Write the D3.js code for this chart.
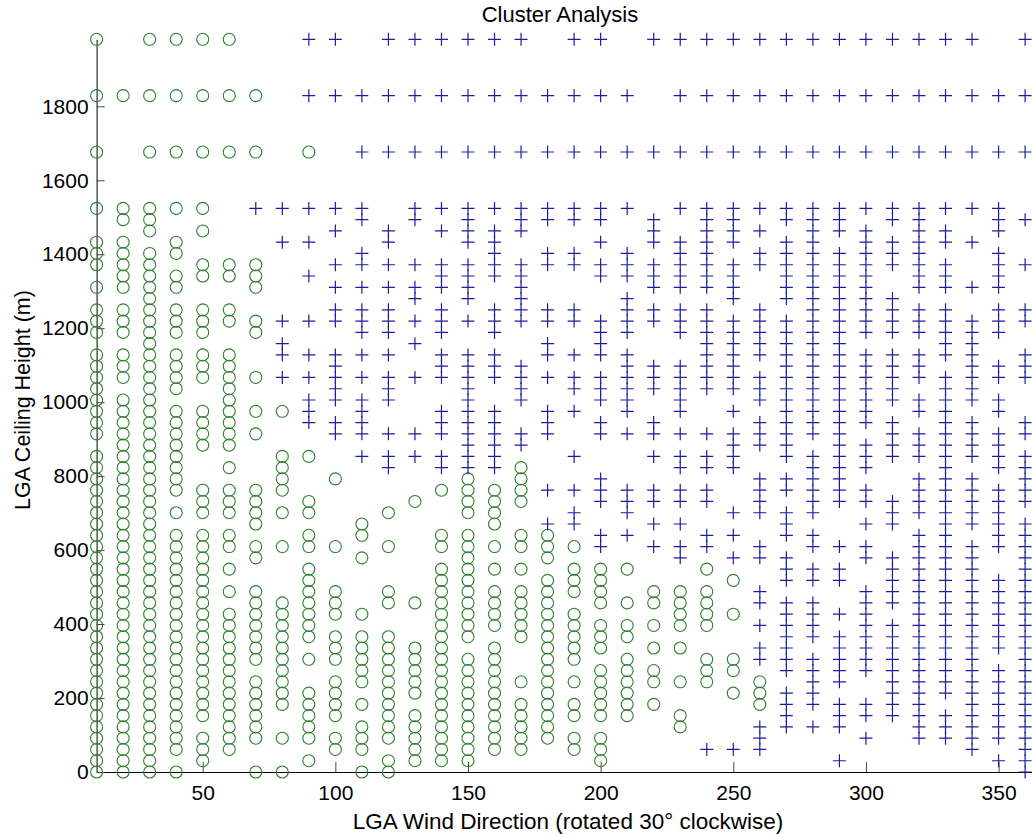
<!DOCTYPE html>
<html>
<head>
<meta charset="utf-8">
<script src="https://cdn.jsdelivr.net/npm/d3@7"></script>
<style>
  body { margin: 0; background: #fff; }
  svg { display: block; font-family: Arial, "Liberation Sans", sans-serif; }
</style>
</head>
<body>
<div id="chart"></div>
<script>
// wind direction bins (deg, rotated 30 deg clockwise)
const directions = [10, 20, 30, 40, 50, 60, 70, 80, 90, 100, 110, 120, 130, 140, 150, 160, 170, 180,
  190, 200, 210, 220, 230, 240, 250, 260, 270, 280, 290, 300, 310, 320, 330, 340, 350, 360];

// ceiling levels in hundreds of feet, cluster 1 (circles), one list per direction
const clusterOneLevels = [
  [0,1,2,3,4,5,6,7,8,9,10,11,12,13,14,15,16,17,18,19,20,21,22,23,24,25,26,27,28,30,31,32,33,34,35,36,37,39,40,41,43,45,46,47,50,55,60,65],
  [0,1,2,3,4,5,6,7,8,9,10,11,12,13,14,15,16,17,18,19,20,21,22,23,24,25,26,27,28,29,30,31,32,33,35,36,37,39,40,41,43,44,45,46,47,49,50,60],
  [0,1,2,3,4,5,6,7,8,9,10,11,12,13,14,15,16,17,18,19,20,21,22,23,24,25,26,27,28,29,30,31,32,33,34,35,36,37,38,39,40,41,42,43,44,45,46,48,49,50,55,60,65],
  [0,2,3,4,5,6,7,8,9,10,11,12,13,14,15,16,17,18,19,20,21,23,25,26,27,28,29,30,31,32,34,35,36,37,39,40,41,43,44,46,47,50,55,60,65],
  [1,2,3,5,6,7,8,9,10,11,12,13,14,15,16,17,18,19,20,21,23,24,25,29,30,31,32,35,36,37,39,40,41,44,45,48,50,55,60,65],
  [2,3,4,5,6,7,8,9,10,11,12,13,14,16,18,20,21,23,24,25,27,29,30,31,32,33,34,35,36,37,40,41,44,45,55,60,65],
  [0,3,4,5,6,7,8,10,11,12,13,14,15,16,19,20,22,23,24,25,30,32,35,39,40,43,44,45,55,60],
  [0,3,6,7,8,9,10,11,12,13,14,15,20,23,25,26,27,28,32],
  [1,3,4,5,6,7,10,12,13,14,15,16,17,18,20,21,23,24,28,55],
  [2,3,5,6,7,8,10,11,12,14,15,16,20,26],
  [0,2,3,4,6,8,9,10,11,12,14,19,21,22],
  [0,1,3,4,5,6,7,8,9,10,11,12,15,16,20,23],
  [1,2,3,4,5,7,8,9,10,11,15,24],
  [1,2,3,4,5,6,7,8,9,10,11,12,13,14,15,16,17,18,20,21,25],
  [1,2,3,4,5,6,7,8,9,10,12,13,14,15,16,17,18,19,20,21,23,24,25,26],
  [2,3,4,5,6,7,8,9,10,11,13,14,15,16,18,20,22,23,24,25],
  [2,3,4,5,6,8,12,13,14,15,16,18,20,21,24,25,26,27],
  [3,4,5,6,7,8,9,10,11,12,13,14,15,16,17,19,20,21],
  [2,3,5,6,8,10,11,12,13,14,16,17,18,20],
  [1,2,3,5,6,7,8,9,11,12,13,15,16,17,18],
  [5,6,7,8,9,10,12,13,15,18],
  [6,8,9,11,13,15,16],
  [4,5,8,11,13,14,15,16],
  [8,9,10,13,14,15,16,18],
  [7,9,10,14,17],
  [6,7,8],
  [], [], [], [], [], [], [], [], [], []
];

// ceiling levels in hundreds of feet, cluster 2 (crosses)
const clusterTwoLevels = [
  [], [], [], [], [], [],
  [50],
  [35,37,38,40,47,50],
  [31,32,33,35,37,40,44,47,50,60,65],
  [30,31,33,34,35,36,37,40,41,43,45,48,50,60,65],
  [28,30,31,32,33,35,37,39,40,41,43,45,46,49,50,55,60],
  [27,28,30,33,34,35,37,39,40,41,43,45,47,48,55,60,65],
  [28,30,35,38,40,42,43,45,49,50,55,60,65],
  [27,28,30,31,32,35,36,37,39,40,41,43,44,45,48,50,55,60,65],
  [27,28,29,30,31,32,33,34,35,36,37,40,42,43,44,45,47,48,49,50,55,60,65],
  [27,28,29,30,31,32,35,36,37,39,40,41,44,45,46,47,48,50,55,60,65],
  [29,30,33,34,35,36,40,41,42,43,44,45,48,49,50,55,60,65],
  [22,25,30,31,32,35,37,38,40,41,45,46,49,50,55,60],
  [22,23,25,28,32,34,35,37,40,41,45,46,49,50,55,60,65],
  [20,21,24,25,26,30,31,33,34,35,37,38,39,40,44,45,47,49,50,55,60,65],
  [21,23,24,25,30,32,33,34,35,36,37,39,40,41,42,44,45,46,50,55,60],
  [20,22,24,25,28,30,31,34,35,36,40,41,43,44,45,47,48,49,55,65],
  [19,20,22,24,25,27,28,30,32,33,34,35,36,39,40,41,43,44,45,46,47,50,55,60,65],
  [2,20,21,24,25,27,28,30,34,35,36,37,38,39,40,41,43,44,45,46,47,48,49,50,55,60,65],
  [2,19,21,23,27,28,29,30,32,34,35,36,37,38,39,40,42,43,44,45,47,48,49,50,55,60,65],
  [2,3,4,10,11,13,15,16,19,20,23,24,25,26,29,30,31,33,34,35,37,38,39,40,41,45,46,48,50,55,60,65],
  [4,5,6,7,9,10,11,12,13,14,15,17,18,19,21,22,23,25,26,28,29,30,31,32,33,34,35,36,37,38,39,40,42,43,44,45,46,47,49,50,55,60,65],
  [4,6,7,8,9,10,12,13,14,15,17,18,20,21,23,24,25,26,27,28,30,31,32,33,34,35,36,37,38,39,40,41,42,43,44,45,46,47,48,49,50,55,60,65],
  [1,4,5,6,8,9,10,11,12,14,17,18,20,24,25,26,27,28,29,30,31,32,33,34,35,36,37,38,39,40,41,42,43,44,45,46,48,49,50,55,60,65],
  [3,5,6,9,10,11,12,13,14,15,16,19,20,22,24,25,27,28,29,31,32,33,34,35,36,37,39,40,41,42,43,44,45,46,47,48,50,55,60,65],
  [5,6,7,8,9,10,11,12,13,15,16,17,18,19,22,23,24,28,29,30,31,33,34,35,36,37,39,40,41,42,45,46,47,49,50,55,60,65],
  [3,4,5,6,7,8,9,10,11,12,13,14,15,16,17,18,19,20,21,23,24,25,26,28,29,30,32,33,35,36,37,39,40,41,43,44,45,46,47,48,49,50,55,60,65],
  [3,4,5,7,8,9,10,11,12,13,14,15,16,17,18,19,20,21,22,23,24,25,26,27,28,29,30,31,32,33,34,35,37,38,39,40,41,43,44,45,47,48,50,55,60,65],
  [2,3,4,5,6,7,8,9,10,11,12,13,14,15,16,17,18,19,20,22,23,24,25,26,28,29,30,31,33,34,35,36,37,38,39,40,43,47,50,55,60,65],
  [1,3,4,5,6,7,8,9,11,12,13,14,15,16,17,20,21,22,23,24,25,27,28,29,30,32,33,35,36,39,40,41,43,44,45,46,48,49,50,55,60],
  [0,1,2,3,4,5,6,7,8,9,10,11,12,13,14,15,16,17,18,19,20,21,22,24,25,26,27,28,30,31,35,36,37,40,41,45,49,55,60,65]
];

const xTicks = [50, 100, 150, 200, 250, 300, 350];
const yTicks = [0, 200, 400, 600, 800, 1000, 1200, 1400, 1600, 1800];

const FT100 = 30.48; // 100 ft in metres

const W = 1032, H = 834;
const plotLeft = 96.6, plotRight = 1032, plotTop = 39.3, plotBottom = 772;

const svg = d3.select('#chart')
  .append('svg')
  .attr('width', W)
  .attr('height', H);

svg.append('rect').attr('width', W).attr('height', H).attr('fill', '#fff');

const x = d3.scaleLinear().domain([10, 362.6]).range([plotLeft, plotRight]);
const y = d3.scaleLinear().domain([0, 65 * FT100]).range([plotBottom, plotTop]);

function points(levels) {
  let out = [];
  levels.forEach((list, i) => {
    list.forEach(k => out.push({ dir: directions[i], h: k * FT100 }));
  });
  return out;
}

// axes (ticks point inward, no box)
const xAxis = svg.append('g')
  .attr('transform', `translate(0,${plotBottom})`)
  .call(d3.axisBottom(x).tickValues(xTicks).tickFormat(d3.format('d'))
    .tickSizeInner(-10).tickSizeOuter(0).tickPadding(13));

const yAxis = svg.append('g')
  .attr('transform', `translate(${plotLeft},0)`)
  .call(d3.axisLeft(y).tickValues(yTicks).tickFormat(d3.format('d'))
    .tickSizeInner(-8).tickSizeOuter(0).tickPadding(8));

[xAxis, yAxis].forEach(a => {
  a.select('.domain').attr('stroke', '#000').attr('stroke-width', 1);
  a.selectAll('.tick line').attr('stroke', '#444');
  a.selectAll('.tick text')
    .attr('fill', '#000')
    .attr('font-size', 21)
    .attr('font-family', 'Arial, "Liberation Sans", sans-serif');
});

// cluster 1: green circles
svg.append('g')
  .attr('fill', 'none')
  .attr('stroke', '#2f7f2f')
  .attr('stroke-width', 1.1)
  .selectAll('circle')
  .data(points(clusterOneLevels))
  .join('circle')
  .attr('cx', d => x(d.dir))
  .attr('cy', d => y(d.h))
  .attr('r', 6);

// cluster 2: blue crosses
const S = 6.5;
svg.append('g')
  .attr('fill', 'none')
  .attr('stroke', '#1c1c9e')
  .attr('stroke-width', 1.2)
  .selectAll('path')
  .data(points(clusterTwoLevels))
  .join('path')
  .attr('d', d => {
    const cx = x(d.dir), cy = y(d.h);
    return `M${cx - S},${cy}H${cx + S}M${cx},${cy - S}V${cy + S}`;
  });

// titles
svg.append('text')
  .attr('x', 560)
  .attr('y', 22)
  .attr('text-anchor', 'middle')
  .attr('font-size', 22)
  .text('Cluster Analysis');

svg.append('text')
  .attr('x', 568)
  .attr('y', 829)
  .attr('text-anchor', 'middle')
  .attr('font-size', 22.5)
  .text('LGA Wind Direction (rotated 30° clockwise)');

svg.append('text')
  .attr('transform', 'translate(30,400) rotate(-90)')
  .attr('text-anchor', 'middle')
  .attr('font-size', 21.5)
  .text('LGA Ceiling Height (m)');
</script>
</body>
</html>
